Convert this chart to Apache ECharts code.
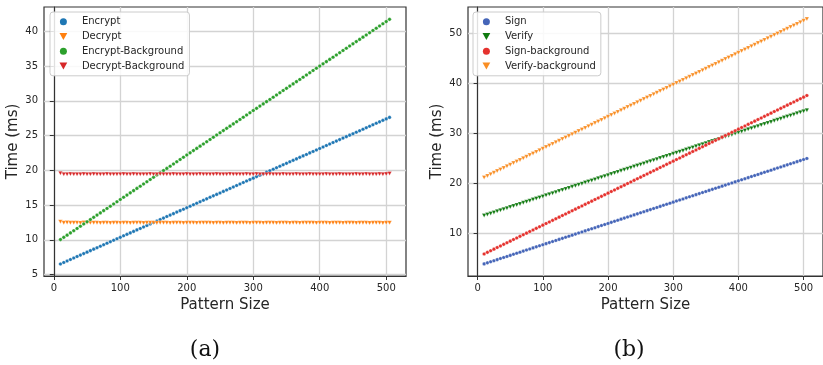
<!DOCTYPE html>
<html>
<head>
<meta charset="utf-8">
<script src="https://cdn.jsdelivr.net/npm/echarts@6/dist/echarts.min.js"></script>
<style>
  html, body { margin: 0; padding: 0; background: #ffffff; }
  #chart { width: 823px; height: 365px; }
</style>
</head>
<body>
<div id="chart"></div>
<script>
// Pattern sizes shared by both panels
const patternSizes = [
  10, 15, 20, 25, 30, 35, 40, 45, 50, 55,
  60, 65, 70, 75, 80, 85, 90, 95, 100, 105,
  110, 115, 120, 125, 130, 135, 140, 145, 150, 155,
  160, 165, 170, 175, 180, 185, 190, 195, 200, 205,
  210, 215, 220, 225, 230, 235, 240, 245, 250, 255,
  260, 265, 270, 275, 280, 285, 290, 295, 300, 305,
  310, 315, 320, 325, 330, 335, 340, 345, 350, 355,
  360, 365, 370, 375, 380, 385, 390, 395, 400, 405,
  410, 415, 420, 425, 430, 435, 440, 445, 450, 455,
  460, 465, 470, 475, 480, 485, 490, 495, 500, 505
];

// Panel (a): encryption timings (ms)
const encrypt = [
  6.53, 6.74, 6.96, 7.17, 7.38, 7.60, 7.81, 8.02, 8.23, 8.45,
  8.66, 8.87, 9.09, 9.30, 9.51, 9.73, 9.94, 10.15, 10.36, 10.58,
  10.79, 11.00, 11.22, 11.43, 11.64, 11.86, 12.07, 12.28, 12.49, 12.71,
  12.92, 13.13, 13.35, 13.56, 13.77, 13.99, 14.20, 14.41, 14.62, 14.84,
  15.05, 15.26, 15.48, 15.69, 15.90, 16.12, 16.33, 16.54, 16.75, 16.97,
  17.18, 17.39, 17.61, 17.82, 18.03, 18.25, 18.46, 18.67, 18.88, 19.10,
  19.31, 19.52, 19.74, 19.95, 20.16, 20.38, 20.59, 20.80, 21.01, 21.23,
  21.44, 21.65, 21.87, 22.08, 22.29, 22.51, 22.72, 22.93, 23.14, 23.36,
  23.57, 23.78, 24.00, 24.21, 24.42, 24.64, 24.85, 25.06, 25.27, 25.49,
  25.70, 25.91, 26.13, 26.34, 26.55, 26.77, 26.98, 27.19, 27.40, 27.62
];
const decrypt = [
  12.62, 12.46, 12.48, 12.45, 12.47, 12.46, 12.44, 12.50, 12.46, 12.45,
  12.47, 12.45, 12.44, 12.46, 12.45, 12.44, 12.46, 12.45, 12.44, 12.45,
  12.46, 12.44, 12.45, 12.45, 12.46, 12.44, 12.45, 12.46, 12.45, 12.44,
  12.45, 12.46, 12.45, 12.44, 12.45, 12.45, 12.46, 12.44, 12.45, 12.46,
  12.45, 12.44, 12.45, 12.46, 12.45, 12.45, 12.44, 12.46, 12.45, 12.44,
  12.45, 12.46, 12.45, 12.44, 12.45, 12.45, 12.46, 12.44, 12.45, 12.46,
  12.45, 12.44, 12.46, 12.45, 12.45, 12.44, 12.45, 12.46, 12.45, 12.44,
  12.45, 12.46, 12.44, 12.45, 12.45, 12.46, 12.45, 12.44, 12.45, 12.46,
  12.45, 12.44, 12.45, 12.46, 12.45, 12.44, 12.45, 12.45, 12.46, 12.44,
  12.45, 12.46, 12.45, 12.44, 12.45, 12.46, 12.45, 12.44, 12.45, 12.47
];
const encryptBackground = [
  10.04, 10.36, 10.68, 11.00, 11.32, 11.64, 11.96, 12.28, 12.60, 12.92,
  13.24, 13.56, 13.88, 14.20, 14.52, 14.84, 15.16, 15.48, 15.80, 16.12,
  16.44, 16.76, 17.08, 17.40, 17.72, 18.04, 18.36, 18.68, 19.00, 19.32,
  19.64, 19.96, 20.28, 20.60, 20.92, 21.24, 21.56, 21.88, 22.20, 22.52,
  22.84, 23.16, 23.48, 23.80, 24.12, 24.44, 24.76, 25.08, 25.40, 25.72,
  26.04, 26.36, 26.68, 27.00, 27.32, 27.64, 27.96, 28.28, 28.60, 28.92,
  29.24, 29.56, 29.88, 30.20, 30.52, 30.84, 31.16, 31.48, 31.80, 32.12,
  32.44, 32.76, 33.08, 33.40, 33.72, 34.04, 34.36, 34.68, 35.00, 35.32,
  35.64, 35.96, 36.28, 36.60, 36.92, 37.24, 37.56, 37.88, 38.20, 38.52,
  38.84, 39.16, 39.48, 39.80, 40.12, 40.44, 40.76, 41.08, 41.40, 41.72
];
const decryptBackground = [
  19.58, 19.45, 19.44, 19.46, 19.45, 19.44, 19.45, 19.46, 19.44, 19.45,
  19.46, 19.45, 19.44, 19.45, 19.46, 19.45, 19.44, 19.45, 19.45, 19.46,
  19.44, 19.45, 19.46, 19.45, 19.44, 19.45, 19.45, 19.46, 19.44, 19.45,
  19.46, 19.45, 19.44, 19.45, 19.46, 19.45, 19.45, 19.44, 19.46, 19.45,
  19.44, 19.45, 19.46, 19.45, 19.45, 19.44, 19.45, 19.46, 19.45, 19.44,
  19.45, 19.46, 19.45, 19.44, 19.45, 19.45, 19.46, 19.44, 19.45, 19.46,
  19.45, 19.44, 19.45, 19.46, 19.45, 19.45, 19.44, 19.46, 19.45, 19.44,
  19.45, 19.46, 19.45, 19.44, 19.45, 19.46, 19.45, 19.45, 19.44, 19.45,
  19.46, 19.45, 19.44, 19.45, 19.46, 19.45, 19.44, 19.45, 19.45, 19.46,
  19.44, 19.45, 19.46, 19.45, 19.44, 19.45, 19.46, 19.45, 19.47, 19.55
];

// Panel (b): signature timings (ms)
const sign = [
  3.82, 4.03, 4.25, 4.46, 4.67, 4.89, 5.10, 5.31, 5.52, 5.74,
  5.95, 6.16, 6.38, 6.59, 6.80, 7.02, 7.23, 7.44, 7.65, 7.87,
  8.08, 8.29, 8.51, 8.72, 8.93, 9.15, 9.36, 9.57, 9.78, 10.00,
  10.21, 10.42, 10.64, 10.85, 11.06, 11.28, 11.49, 11.70, 11.91, 12.13,
  12.34, 12.55, 12.77, 12.98, 13.19, 13.41, 13.62, 13.83, 14.04, 14.26,
  14.47, 14.68, 14.90, 15.11, 15.32, 15.54, 15.75, 15.96, 16.17, 16.39,
  16.60, 16.81, 17.03, 17.24, 17.45, 17.67, 17.88, 18.09, 18.30, 18.52,
  18.73, 18.94, 19.16, 19.37, 19.58, 19.80, 20.01, 20.22, 20.43, 20.65,
  20.86, 21.07, 21.29, 21.50, 21.71, 21.93, 22.14, 22.35, 22.56, 22.78,
  22.99, 23.20, 23.42, 23.63, 23.84, 24.06, 24.27, 24.48, 24.69, 24.91
];
const verify = [
  13.48, 13.69, 13.91, 14.12, 14.33, 14.55, 14.76, 14.97, 15.18, 15.40,
  15.61, 15.82, 16.04, 16.25, 16.46, 16.68, 16.89, 17.10, 17.31, 17.53,
  17.74, 17.95, 18.17, 18.38, 18.59, 18.81, 19.02, 19.23, 19.44, 19.66,
  19.87, 20.08, 20.30, 20.51, 20.72, 20.94, 21.15, 21.36, 21.57, 21.79,
  22.00, 22.21, 22.43, 22.64, 22.85, 23.07, 23.28, 23.49, 23.70, 23.92,
  24.13, 24.34, 24.56, 24.77, 24.98, 25.20, 25.41, 25.62, 25.83, 26.05,
  26.26, 26.47, 26.69, 26.90, 27.11, 27.33, 27.54, 27.75, 27.96, 28.18,
  28.39, 28.60, 28.82, 29.03, 29.24, 29.46, 29.67, 29.88, 30.09, 30.31,
  30.52, 30.73, 30.95, 31.16, 31.37, 31.59, 31.80, 32.01, 32.22, 32.44,
  32.65, 32.86, 33.08, 33.29, 33.50, 33.72, 33.93, 34.14, 34.35, 34.57
];
const signBackground = [
  5.81, 6.13, 6.45, 6.77, 7.09, 7.41, 7.73, 8.05, 8.37, 8.69,
  9.01, 9.33, 9.65, 9.97, 10.29, 10.61, 10.93, 11.25, 11.57, 11.89,
  12.21, 12.53, 12.85, 13.17, 13.49, 13.81, 14.13, 14.45, 14.77, 15.09,
  15.41, 15.73, 16.05, 16.37, 16.69, 17.01, 17.33, 17.65, 17.97, 18.29,
  18.61, 18.93, 19.25, 19.57, 19.89, 20.21, 20.53, 20.85, 21.17, 21.49,
  21.81, 22.13, 22.45, 22.77, 23.09, 23.41, 23.73, 24.05, 24.37, 24.69,
  25.01, 25.33, 25.65, 25.97, 26.29, 26.61, 26.93, 27.25, 27.57, 27.89,
  28.21, 28.53, 28.85, 29.17, 29.49, 29.81, 30.13, 30.45, 30.77, 31.09,
  31.41, 31.73, 32.05, 32.37, 32.69, 33.01, 33.33, 33.65, 33.97, 34.29,
  34.61, 34.93, 35.25, 35.57, 35.89, 36.21, 36.53, 36.85, 37.17, 37.49
];
const verifyBackground = [
  21.10, 21.42, 21.74, 22.06, 22.38, 22.70, 23.02, 23.34, 23.66, 23.98,
  24.30, 24.62, 24.94, 25.26, 25.58, 25.90, 26.22, 26.54, 26.86, 27.18,
  27.50, 27.82, 28.14, 28.46, 28.78, 29.10, 29.42, 29.74, 30.06, 30.38,
  30.70, 31.02, 31.34, 31.66, 31.98, 32.30, 32.62, 32.94, 33.26, 33.58,
  33.90, 34.22, 34.54, 34.86, 35.18, 35.50, 35.82, 36.14, 36.46, 36.78,
  37.10, 37.42, 37.74, 38.06, 38.38, 38.70, 39.02, 39.34, 39.66, 39.98,
  40.30, 40.62, 40.94, 41.26, 41.58, 41.90, 42.22, 42.54, 42.86, 43.18,
  43.50, 43.82, 44.14, 44.46, 44.78, 45.10, 45.42, 45.74, 46.06, 46.38,
  46.70, 47.02, 47.34, 47.66, 47.98, 48.30, 48.62, 48.94, 49.26, 49.58,
  49.90, 50.22, 50.54, 50.86, 51.18, 51.50, 51.82, 52.14, 52.46, 52.78
];

// Tick labels
const xTicks = [0, 100, 200, 300, 400, 500];
const yTicksA = [5, 10, 15, 20, 25, 30, 35, 40];
const yTicksB = [10, 20, 30, 40, 50];

const FONT = 'DejaVu Sans';
const TEXT = '#262626';
const SPINE = '#333333';
const GRIDLINE = '#d3d3d3';
const DOWN_TRIANGLE = 'path://M0,0L10,0L5,9Z';

function pairs(values) {
  return patternSizes.map((x, i) => [x, values[i]]);
}

function xAxis(gridIndex) {
  return {
    type: 'value', gridIndex, min: -14.75, max: 529.75, splitNumber: 5,
    name: 'Pattern Size', nameLocation: 'middle', nameGap: 18,
    nameTextStyle: { fontFamily: FONT, fontSize: 15, color: TEXT, verticalAlign: 'top' },
    axisLine: { show: true, onZero: false, lineStyle: { color: SPINE, width: 1.2 } },
    axisTick: { show: true, inside: false, length: 4, customValues: xTicks, lineStyle: { color: SPINE, width: 1 } },
    axisLabel: { customValues: xTicks, margin: 7, fontFamily: FONT, fontSize: 10, color: TEXT },
    splitLine: { show: true, lineStyle: { color: GRIDLINE, width: 1.3 } }
  };
}

function yAxis(gridIndex, min, max, splitNumber, ticks) {
  return {
    type: 'value', gridIndex, min, max, splitNumber,
    name: 'Time (ms)', nameLocation: 'middle', nameGap: 23, nameRotate: 90,
    nameTextStyle: { fontFamily: FONT, fontSize: 15, color: TEXT },
    axisLine: { show: true, lineStyle: { color: SPINE, width: 1.2 } },
    axisTick: { show: true, inside: false, length: 4, customValues: ticks, lineStyle: { color: SPINE, width: 1 } },
    axisLabel: { customValues: ticks, margin: 6, fontFamily: FONT, fontSize: 10, color: TEXT },
    splitLine: { show: true, lineStyle: { color: GRIDLINE, width: 1.3 } }
  };
}

function scatter(name, values, color, down, xi) {
  return {
    type: 'scatter', name, xAxisIndex: xi, yAxisIndex: xi,
    data: pairs(values),
    symbol: down ? DOWN_TRIANGLE : 'circle',
    symbolSize: down ? [4.4, 4] : 3.6,
    itemStyle: { color, opacity: 1, borderColor: '#ffffff', borderWidth: 0.3 },
    silent: true
  };
}

function legend(left, names, downFlags) {
  return {
    left, top: 12, orient: 'vertical',
    data: names.map((name, i) => ({ name, icon: downFlags[i] ? DOWN_TRIANGLE : 'circle' })),
    itemWidth: 9, itemHeight: 7, itemGap: 0,
    symbolKeepAspect: true, symbolRotate: 0,
    padding: [2.5, 5, 2.5, 9.5],
    backgroundColor: 'rgba(255,255,255,0.85)',
    borderColor: '#cccccc', borderWidth: 1, borderRadius: 3,
    itemStyle: { borderWidth: 0 },
    textStyle: { fontFamily: FONT, fontSize: 10, color: TEXT, lineHeight: 14.7, padding: [0, 0, 0, 9] }
  };
}

const chart = echarts.init(document.getElementById('chart'), null, { renderer: 'canvas' });
chart.setOption({
  animation: false,
  backgroundColor: '#ffffff',
  grid: [
    { left: 44, top: 7, width: 362, height: 269, show: true, borderColor: SPINE, borderWidth: 1.2, backgroundColor: 'transparent' },
    { left: 468, top: 7, width: 361, height: 269, show: true, borderColor: SPINE, borderWidth: 1.2, backgroundColor: 'transparent' }
  ],
  xAxis: [xAxis(0), xAxis(1)],
  yAxis: [yAxis(0, 4.8, 43.5, 8, yTicksA), yAxis(1, 1.4, 55.2, 5, yTicksB)],
  legend: [
    legend(50, ['Encrypt', 'Decrypt', 'Encrypt-Background', 'Decrypt-Background'], [false, true, false, true]),
    legend(473, ['Sign', 'Verify', 'Sign-background', 'Verify-background'], [false, true, false, true])
  ],
  series: [
    scatter('Encrypt', encrypt, '#1f77b4', false, 0),
    scatter('Decrypt', decrypt, '#ff7f0e', true, 0),
    scatter('Encrypt-Background', encryptBackground, '#2ca02c', false, 0),
    scatter('Decrypt-Background', decryptBackground, '#d62728', true, 0),
    scatter('Sign', sign, '#4565b8', false, 1),
    scatter('Verify', verify, '#107a10', true, 1),
    scatter('Sign-background', signBackground, '#e5322e', false, 1),
    scatter('Verify-background', verifyBackground, '#f98e24', true, 1)
  ],
  graphic: [
    { type: 'text', x: 205, y: 350, style: { text: '(a)', font: '22px "DejaVu Serif", serif', fill: '#111111', textAlign: 'center', textVerticalAlign: 'middle' } },
    { type: 'text', x: 629, y: 350, style: { text: '(b)', font: '22px "DejaVu Serif", serif', fill: '#111111', textAlign: 'center', textVerticalAlign: 'middle' } }
  ]
});
</script>
</body>
</html>
